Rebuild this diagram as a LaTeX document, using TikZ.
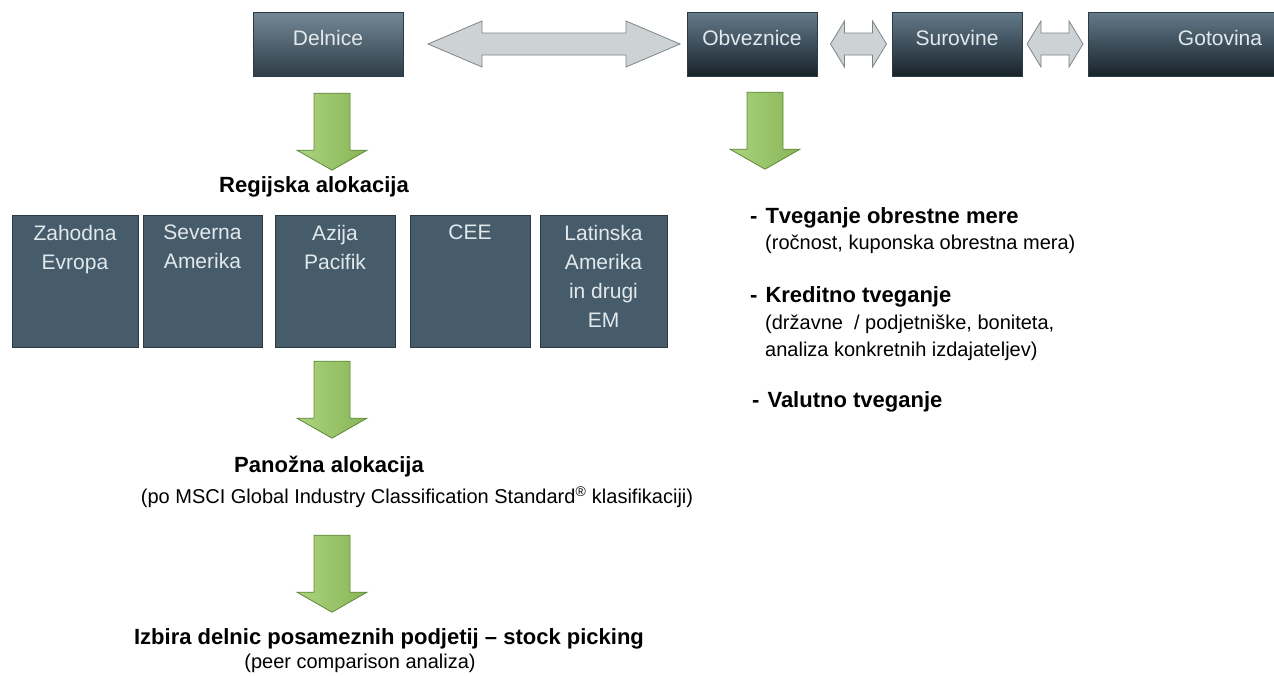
\documentclass[tikz,border=0pt]{standalone}
\usepackage{fontspec}
\setmainfont{Liberation Sans}
\usetikzlibrary{positioning,calc}

\definecolor{boxtop}{HTML}{647B8B}
\definecolor{boxbot}{HTML}{18232B}
\definecolor{boxtxt}{HTML}{E2E9ED}
\definecolor{regfill}{HTML}{465C6A}
\definecolor{regline}{HTML}{2C3A43}
\definecolor{zelena}{HTML}{97C95F}
\definecolor{zelenarob}{HTML}{5F8A3A}
\definecolor{siva}{HTML}{CDD2D5}
\definecolor{sivarob}{HTML}{7E8589}

\tikzset{
  razred/.style={draw=regline, top color=boxtop, bottom color=boxbot, text=boxtxt,
    minimum height=64pt, inner sep=0pt, text height=15pt, text depth=12pt,
    font=\fontsize{21}{25}\selectfont},
  regija/.style={draw=regline, fill=regfill, minimum height=132pt, inner sep=0pt},
  regtekst/.style={text=boxtxt, align=center, inner sep=0pt, font=\fontsize{21}{29}\selectfont},
  naslov/.style={inner sep=0pt, font=\fontsize{22}{26}\selectfont\bfseries},
  opis/.style={inner sep=0pt, font=\fontsize{20}{24}\selectfont},
  sivapuscica/.style={draw=sivarob, fill=siva, line width=0.8pt},
  zelenapuscica/.style={draw=zelenarob, left color=zelena!80!white, right color=zelena!90!black, line width=0.8pt},
  pics/dvojna/.style 2 args={code={
    \draw[sivapuscica] (-#1,0) -- (-#1+#2,-23) -- (-#1+#2,-11) -- (#1-#2,-11) -- (#1-#2,-23)
      -- (#1,0) -- (#1-#2,23) -- (#1-#2,11) -- (-#1+#2,11) -- (-#1+#2,23) -- cycle;
  }},
  pics/navzdol/.style={code={
    \draw[zelenapuscica] (-18,0) -- (18,0) -- (18,57) -- (35,57) -- (0,77) -- (-35,57) -- (-18,57) -- cycle;
  }}
}

\begin{document}
\begin{tikzpicture}[x=1pt,y=-1pt]
  \useasboundingbox (0,0) rectangle (1274,675);

  % razredi sredstev zgoraj
  \node[razred, minimum width=150pt, top color=boxtop!90!white, bottom color=boxbot!70!boxtop] (del) at (328,44) {Delnice};
  \node[razred, minimum width=130pt] (obv) at (752,44) {Obveznice};
  \node[razred, minimum width=130pt] (sur) at (957,44) {Surovine};
  \node[razred, minimum width=264pt] (got) at (1220,44) {Gotovina};

  % sive dvojne puščice med razredi
  \pic at ($(del.east)!0.5!(obv.west)+(9,0)$) {dvojna={126}{54}};
  \pic at ($(obv.east)!0.5!(sur.west)+(4,0)$) {dvojna={28}{14}};
  \pic at ($(sur.east)!0.5!(got.west)$) {dvojna={28}{14}};

  % zelene puščice navzdol
  \pic at ($(del.south)+(4,17)$) {navzdol};
  \pic at ($(obv.south)+(13,16)$) {navzdol};

  % regijska alokacija
  \node[naslov] (reg) at (314,187) {Regijska alokacija};
  \node[regija, minimum width=126pt] (zah) at (75,281) {};
  \node[regija, minimum width=119pt] (sev) at (202.5,281) {};
  \node[regija, minimum width=120pt] (azi) at (335,281) {};
  \node[regija, minimum width=120pt] (cee) at (470,281) {};
  \node[regija, minimum width=127pt] (lat) at (603.5,281) {};
  \node[regtekst, below=10pt of zah.north] (zaht) {Zahodna\\Evropa};
  \node[regtekst, below=10pt of sev.north] (sevt) {Severna\\Amerika};
  \node[regtekst, below=10pt of azi.north] (azit) {Azija\\Pacifik};
  \node[regtekst, below=10pt of cee.north] (ceet) {CEE};
  \node[regtekst, below=10pt of lat.north] (latt) {Latinska\\Amerika\\in drugi\\EM};

  \pic at ($(azi.south)+(-3,14)$) {navzdol};

  % panožna alokacija
  \node[naslov] (pan) at (329,467) {Panožna alokacija};
  \node[opis] (msci) at (417,497) {(po MSCI Global Industry Classification Standard\textsuperscript{®} klasifikaciji)};

  \pic at ($(azi.south)+(-3,188)$) {navzdol};

  % izbira delnic
  \node[naslov] (izb) at (389,639) {Izbira delnic posameznih podjetij – stock picking};
  \node[opis] (peer) at (360,663) {(peer comparison analiza)};

  % tveganja obveznic
  \node[naslov, anchor=west] (t1) at (750,218) {-\hspace{8pt}Tveganje obrestne mere};
  \node[opis, anchor=west] (t1a) at (765,244) {(ročnost, kuponska obrestna mera)};
  \node[naslov, anchor=west] (t2) at (750,297) {-\hspace{8pt}Kreditno tveganje};
  \node[opis, anchor=west] (t2a) at (765,324) {(državne\ \ / podjetniške, boniteta,};
  \node[opis, anchor=west] (t2b) at (765,351) {analiza konkretnih izdajateljev)};
  \node[naslov, anchor=west] (t3) at (752,402) {-\hspace{8pt}Valutno tveganje};
\end{tikzpicture}
\end{document}
